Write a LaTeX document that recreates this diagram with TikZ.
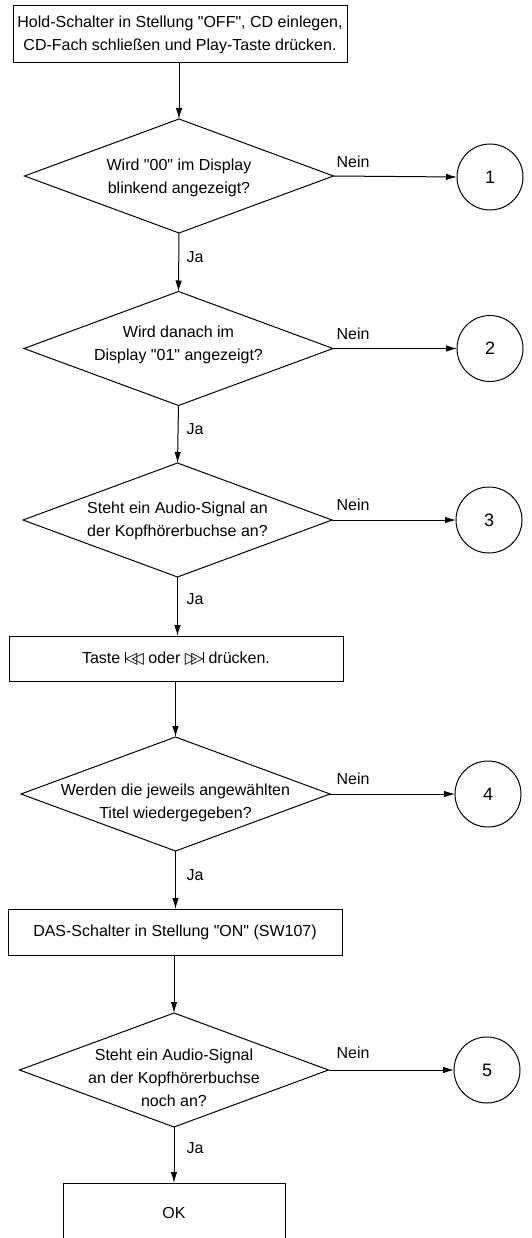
\documentclass[tikz,border=0pt]{standalone}
\usepackage{fontspec}
\setmainfont{Liberation Sans}[Ligatures=TeXOff]
\newfontfamily\dv{DejaVu Sans}
\usetikzlibrary{shapes.geometric,arrows.meta}
\newcommand{\prevsym}{\raisebox{0.2pt}{\rule{0.7pt}{11.5pt}}\kern-0.3pt{\dv\fontsize{16}{16}\selectfont ◁\kern-5.8pt◁}}
\newcommand{\nextsym}{{\dv\fontsize{16}{16}\selectfont ▷\kern-5.8pt▷}\kern-0.3pt\raisebox{0.2pt}{\rule{0.7pt}{11.5pt}}}
\begin{document}
\begin{tikzpicture}[x=1pt,y=-1pt,
  every node/.style={font=\fontsize{16}{23}\selectfont},
  proc/.style={draw,line width=1pt,rectangle,minimum width=334pt,inner sep=0pt,outer sep=0pt,align=center},
  dia/.style={draw,line width=1pt,diamond,minimum width=309pt,minimum height=114pt,inner sep=0pt,outer sep=0pt},
  txt/.style={align=center,inner sep=0pt},
  conn/.style={draw,line width=1pt,circle,minimum size=66pt,inner sep=0pt,outer sep=0pt,font=\fontsize{18}{20}\selectfont},
  arr/.style={line width=1pt,-{Latex[length=11pt,width=6.5pt]}},
  lab/.style={inner sep=0pt}]
\useasboundingbox (0,0) rectangle (532,1238);

% boxes
\node[proc,minimum height=57pt] (b0) at (180,34.5) {Hold-Schalter in Stellung "OFF", CD einlegen,\\CD-Fach schließen und Play-Taste drücken.};
\node[proc,minimum height=45pt] (b1) at (176,658.5) {Taste \prevsym{} oder \nextsym{} drücken.};
\node[proc,minimum height=46pt] (b2) at (175,932) {DAS-Schalter in Stellung "ON" (SW107)};
\node[draw,line width=1pt,rectangle,minimum width=222pt,minimum height=70pt,inner sep=0pt,outer sep=0pt] (ok) at (174,1218) {};
\node[txt] (okt) at (174,1213) {OK};

% diamonds
\node[dia] (d1) at (179,176) {};
\node[txt] (t1) at (179,178) {Wird "00" im Display\\blinkend angezeigt?};
\node[dia] (d2) at (178.5,348.5) {};
\node[txt] (t2) at (178.5,345) {Wird danach im\\Display "01" angezeigt?};
\node[dia] (d3) at (177.5,520) {};
\node[txt] (t3) at (177.5,521) {Steht ein Audio-Signal an\\der Kopfhörerbuchse an?};
\node[dia] (d4) at (175.5,794) {};
\node[txt] (t4) at (175.5,803) {Werden die jeweils angewählten\\Titel wiedergegeben?};
\node[dia] (d5) at (174,1070) {};
\node[txt] (t5) at (174,1078) {Steht ein Audio-Signal\\an der Kopfhörerbuchse\\noch an?};

% connectors (circles)
\node[conn] (c1) at (490,177) {1};
\node[conn] (c2) at (490,348.5) {2};
\node[conn] (c3) at (489,520) {3};
\node[conn] (c4) at (488,794) {4};
\node[conn] (c5) at (487,1070) {5};

% vertical arrows
\draw[arr] (d1.north |- b0.south) -- (d1.north);
\draw[arr] (d1.south) -- (d2.north);
\draw[arr] (d2.south) -- (d3.north);
\draw[arr] (d3.south) -- (d3.south |- b1.north);
\draw[arr] (d4.north |- b1.south) -- (d4.north);
\draw[arr] (d4.south) -- (d4.south |- b2.north);
\draw[arr] (d5.north |- b2.south) -- (d5.north);
\draw[arr] (d5.south) -- (d5.south |- ok.north);

% horizontal arrows
\draw[arr] (d1.east) -- (c1.west);
\draw[arr] (d2.east) -- (c2.west);
\draw[arr] (d3.east) -- (c3.west);
\draw[arr] (d4.east) -- (c4.west);
\draw[arr] (d5.east) -- (c5.west);

% labels
\node[lab] (n1) at (353,162) {Nein};
\node[lab] (n2) at (353,334) {Nein};
\node[lab] (n3) at (353,505) {Nein};
\node[lab] (n4) at (353,779) {Nein};
\node[lab] (n5) at (353,1053) {Nein};
\node[lab] (j1) at (195,257) {Ja};
\node[lab] (j2) at (195,429) {Ja};
\node[lab] (j3) at (195,599) {Ja};
\node[lab] (j4) at (195,875) {Ja};
\node[lab] (j5) at (195,1148) {Ja};
\end{tikzpicture}
\end{document}
